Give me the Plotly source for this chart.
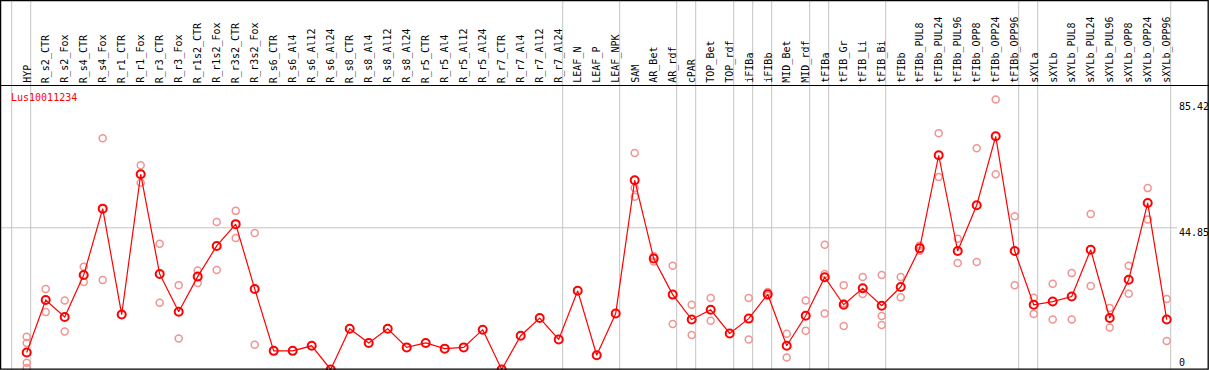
import plotly.graph_objects as go

categories = ["HYP", "R_s2_CTR", "R_s2_Fox", "R_s4_CTR", "R_s4_Fox", "R_r1_CTR", "R_r1_Fox",
              "R_r3_CTR", "R_r3_Fox", "R_r1s2_CTR", "R_r1s2_Fox", "R_r3s2_CTR", "R_r3s2_Fox",
              "R_s6_CTR", "R_s6_Al4", "R_s6_Al12", "R_s6_Al24", "R_s8_CTR", "R_s8_Al4", "R_s8_Al12",
              "R_s8_Al24", "R_r5_CTR", "R_r5_Al4", "R_r5_Al12", "R_r5_Al24", "R_r7_CTR", "R_r7_Al4",
              "R_r7_Al12", "R_r7_Al24", "LEAF_N", "LEAF_P", "LEAF_NPK", "SAM", "AR_Bet", "AR_rdf",
              "cPAR", "TOP_Bet", "TOP_rdf", "iFIBa", "iFIBb", "MID_Bet", "MID_rdf", "tFIBa",
              "tFIB_Gr", "tFIB_Li", "tFIB_Bi", "tFIBb", "tFIBb_PUL8", "tFIBb_PUL24", "tFIBb_PUL96",
              "tFIBb_OPP8", "tFIBb_OPP24", "tFIBb_OPP96", "sXYLa", "sXYLb", "sXYLb_PUL8",
              "sXYLb_PUL24", "sXYLb_PUL96", "sXYLb_OPP8", "sXYLb_OPP24", "sXYLb_OPP96"]

means = [5.4, 22.0, 16.6, 29.9, 50.9, 17.4, 61.8, 30.2, 18.3, 29.4, 39.1, 46.0, 25.5,
         5.9, 5.9, 7.5, 0.0, 12.9, 8.4, 12.9, 7.0, 8.4, 6.6, 7.0, 12.6, 0.0, 10.7, 16.3, 9.5,
         24.9, 4.5, 17.7, 59.9, 35.1, 23.7, 15.8, 18.9, 11.4, 16.1, 23.8, 7.5, 17.0, 29.2,
         20.5, 25.7, 20.2, 26.1, 38.4, 67.8, 37.5, 52.0, 73.8, 37.5, 20.5, 21.5, 23.1, 37.9,
         16.3, 28.4, 52.7, 15.8]

N = None
rep1 = [10.4, 25.5, 21.8, 32.5, 73.2, N, 64.6, 39.8, 26.7, 31.3, 46.7, 50.2, 43.2,
        N, N, N, N, N, N, N, N, N, N, N, N, N, N, N, N, N, N, N,
        68.5, 35.8, 32.8, 20.5, 22.6, N, 22.6, 24.5, 11.3, 21.8, 39.5, 26.7, 29.3, 29.9,
        29.3, 39.2, 74.8, 41.4, 70.0, 85.42, 48.5, 22.7, 27.1, 30.5, 49.2, 19.5, 32.8, 57.4, 22.3]
rep2 = [8.4, 18.2, 12.0, 27.7, 28.3, N, 59.1, 21.1, 9.8, 27.4, 31.5, 41.6, 7.8,
        N, N, N, N, N, N, N, N, N, N, N, N, N, N, N, N, N, N, N,
        57.4, 34.2, 14.4, 10.9, 15.4, N, 9.5, 23.3, 3.8, 12.3, 30.2, 21.0, 23.9, 16.9,
        22.9, 37.6, 60.9, 33.7, 34.0, 61.8, 26.7, 17.6, 15.8, 15.8, 26.4, 13.3, 24.0, 47.5, 9.05]
rep3 = [2.1, N, N, N, N, N, N, N, N, N, N, N, N,
        N, N, N, N, N, N, N, N, N, N, N, N, N, N, N, N, N, N, N,
        54.7, N, N, N, N, N, N, N, N, N, 17.7, 13.8, N, 14.1,
        N, N, N, N, N, N, N, N, N, N, N, N, N, N, N]
rep4 = [0.5] + [N] * 60

group_ends = [-1, 0, 28, 31, 34, 35, 37, 38, 39, 41, 42, 45, 52, 53, 60]
axis_labels = ["85.42", "44.85", "0"]
axis_values = [85.42, 44.85, 0.0]
gene = "Lus10011234"

W, H = 1209, 370
PX = 19.0           # pixels per column
X0 = 26.7           # pixel of first column
SLOPE = 3.16        # pixels per unit
Y0 = 369.5          # pixel of value 0

def py(pix):
    return 1 - pix / H

xs = list(range(len(categories)))
fig = go.Figure()

rx, ry = [], []
for reps in (rep1, rep2, rep3, rep4):
    for i, v in enumerate(reps):
        if v is not None:
            rx.append(i)
            ry.append(v)

fig.add_trace(go.Scatter(x=rx, y=ry, mode="markers",
                         marker=dict(symbol="circle-open", size=7, color="#f09494",
                                     line=dict(width=1.5, color="#f09494")),
                         hoverinfo="skip", showlegend=False, cliponaxis=True))
fig.add_trace(go.Scatter(x=xs, y=means, mode="lines+markers",
                         line=dict(color="#ff0000", width=1.2),
                         marker=dict(symbol="circle-open", size=8, color="#ff0000",
                                     line=dict(width=2, color="#ff0000")),
                         showlegend=False, cliponaxis=True))

shapes = []
for c in group_ends:
    xv = c + 4.0 / PX
    shapes.append(dict(type="line", xref="x", yref="paper", x0=xv, x1=xv, y0=0, y1=1,
                       line=dict(color="#c4c4c4", width=1), layer="below"))
shapes.append(dict(type="line", xref="paper", yref="y", x0=0, x1=1177 / W,
                   y0=axis_values[1], y1=axis_values[1],
                   line=dict(color="#c4c4c4", width=1), layer="below"))
shapes.append(dict(type="line", xref="paper", yref="paper", x0=0, x1=1, y0=py(85.5), y1=py(85.5),
                   line=dict(color="black", width=1.2)))
shapes.append(dict(type="rect", xref="paper", yref="paper", x0=0.6 / W, x1=1 - 0.8 / W,
                   y0=py(369.2), y1=py(0.6), line=dict(color="black", width=1.3)))

annotations = []
for i, lab in enumerate(categories):
    annotations.append(dict(x=i, xref="x", y=py(84), yref="paper", text=lab, textangle=-90,
                            showarrow=False, xanchor="center", yanchor="bottom",
                            font=dict(family="DejaVu Sans Mono", size=10, color="black"),
                            borderpad=0))
label_centers = [107, 232, 362]
for t, yc in zip(axis_labels, label_centers):
    annotations.append(dict(x=1177.5 / W, xref="paper", y=py(yc), yref="paper", text=t,
                            showarrow=False, xanchor="left", yanchor="middle",
                            font=dict(family="DejaVu Sans Mono", size=10, color="black"),
                            borderpad=0))
annotations.append(dict(x=9.5 / W, xref="paper", y=py(97), yref="paper", text=gene,
                        showarrow=False, xanchor="left", yanchor="middle",
                        font=dict(family="DejaVu Sans Mono", size=10, color="#ff0000"),
                        borderpad=0))

fig.update_layout(
    width=W, height=H,
    margin=dict(l=0, r=0, t=0, b=0),
    paper_bgcolor="white", plot_bgcolor="white",
    xaxis=dict(range=[-X0 / PX, (W - X0) / PX], visible=False, showgrid=False, zeroline=False,
               fixedrange=True),
    yaxis=dict(range=[-(H - Y0) / SLOPE, Y0 / SLOPE], visible=False, showgrid=False,
               zeroline=False, fixedrange=True),
    shapes=shapes, annotations=annotations,
)

fig.write_html("out.html", config={"displayModeBar": False})

with open("out.html", "r", encoding="utf-8") as f:
    html = f.read()
html = html.replace("<head>", "<head><style>html,body{margin:0;padding:0;overflow:hidden;}</style>", 1)
with open("out.html", "w", encoding="utf-8") as f:
    f.write(html)
